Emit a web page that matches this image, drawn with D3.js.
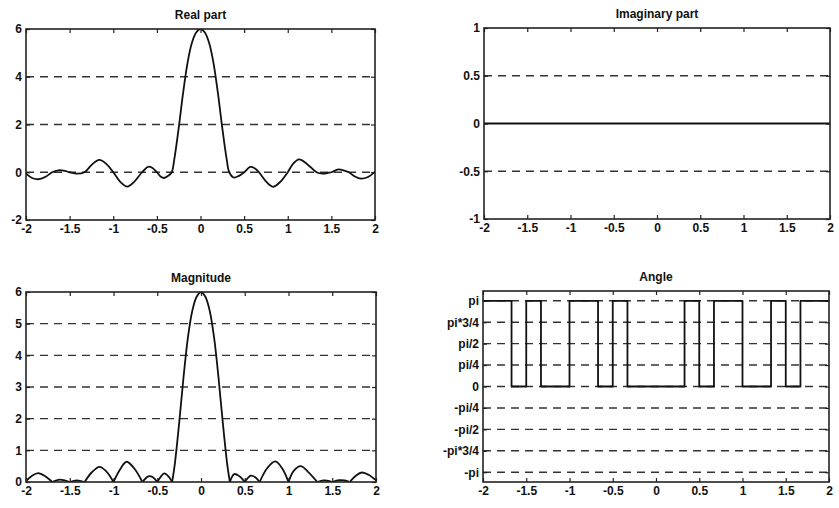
<!DOCTYPE html>
<html>
<head>
<meta charset="utf-8">
<script src="https://cdn.jsdelivr.net/npm/d3@7"></script>
<style>
  body { margin: 0; background: #fff; }
  svg { display: block; }
  text { font-family: 'Liberation Sans', Arial, sans-serif; font-weight: bold; fill: #111; }
</style>
</head>
<body>
<div id="chart"></div>
<script>
// x axis shared by all four panels
const xTicks = [-2, -1.5, -1, -0.5, 0, 0.5, 1, 1.5, 2]
const xTickLabels = ['-2', '-1.5', '-1', '-0.5', '0', '0.5', '1', '1.5', '2']

// Real part
const realX = [-2, -1.93, -1.85, -1.77, -1.7, -1.63, -1.57, -1.5, -1.42, -1.33, -1.25, -1.16, -1.08, -1,
  -0.92, -0.84, -0.76, -0.67, -0.6, -0.55, -0.5, -0.45, -0.42, -0.37, -0.33, -0.3, -0.25, -0.2, -0.15, -0.1, -0.05,
  0, 0.05, 0.1, 0.15, 0.2, 0.25, 0.3, 0.33, 0.38, 0.44, 0.5, 0.57, 0.62, 0.67, 0.75, 0.83, 0.91, 1,
  1.06, 1.13, 1.22, 1.33, 1.4, 1.47, 1.5, 1.58, 1.64, 1.7, 1.77, 1.84, 1.92, 2]
const realY = [-0.06, -0.24, -0.29, -0.18, 0, 0.08, 0.07, 0, -0.06, 0, 0.3, 0.52, 0.35, 0,
  -0.4, -0.6, -0.4, 0, 0.23, 0.18, 0, -0.2, -0.24, -0.15, 0, 0.55, 1.85, 3.3, 4.55, 5.4, 5.85,
  6, 5.85, 5.4, 4.55, 3.3, 1.85, 0.55, 0, -0.22, -0.15, 0, 0.22, 0.17, 0, -0.38, -0.61, -0.42, 0,
  0.35, 0.54, 0.35, 0, -0.06, -0.02, 0, 0.12, 0.08, 0, -0.18, -0.27, -0.2, 0.03]

// Imaginary part
const imagX = [-2, 2]
const imagY = [0, 0]

// Magnitude
const magX = [-2, -1.93, -1.86, -1.78, -1.7, -1.63, -1.57, -1.5, -1.42, -1.33, -1.25, -1.16, -1.08, -1,
  -0.92, -0.85, -0.76, -0.67, -0.6, -0.55, -0.5, -0.45, -0.42, -0.37, -0.33, -0.3, -0.25, -0.2, -0.15, -0.1, -0.05,
  0, 0.05, 0.1, 0.15, 0.2, 0.25, 0.3, 0.33, 0.38, 0.44, 0.5, 0.57, 0.62, 0.67, 0.76, 0.85, 0.93, 1,
  1.06, 1.14, 1.22, 1.33, 1.4, 1.47, 1.5, 1.58, 1.64, 1.7, 1.77, 1.84, 1.92, 2]
const magY = [0.03, 0.2, 0.28, 0.18, 0, 0.07, 0.06, 0, 0.05, 0, 0.3, 0.48, 0.33, 0,
  0.42, 0.64, 0.42, 0, 0.18, 0.15, 0, 0.2, 0.27, 0.17, 0, 0.55, 1.85, 3.3, 4.55, 5.4, 5.85,
  6, 5.85, 5.4, 4.55, 3.3, 1.85, 0.55, 0, 0.25, 0.18, 0, 0.2, 0.15, 0, 0.45, 0.65, 0.42, 0,
  0.35, 0.5, 0.33, 0, 0.05, 0.03, 0, 0.06, 0.05, 0, 0.2, 0.3, 0.22, 0.05]

// Angle (step between 0 and pi)
const angleX = [-2, -1.67, -1.67, -1.5, -1.5, -1.33, -1.33, -1, -1, -0.67, -0.67, -0.5, -0.5, -0.33, -0.33,
  0.33, 0.33, 0.5, 0.5, 0.67, 0.67, 1, 1, 1.33, 1.33, 1.5, 1.5, 1.67, 1.67, 2]
const angleY = [3.1416, 3.1416, 0, 0, 3.1416, 3.1416, 0, 0, 3.1416, 3.1416, 0, 0, 3.1416, 3.1416, 0,
  0, 3.1416, 3.1416, 0, 0, 3.1416, 3.1416, 0, 0, 3.1416, 3.1416, 0, 0, 3.1416, 3.1416]

const realTicks = [-2, 0, 2, 4, 6]
const imagTicks = [-1, -0.5, 0, 0.5, 1]
const imagTickLabels = ['-1', '-0.5', '0', '0.5', '1']
const magTicks = [0, 1, 2, 3, 4, 5, 6]
const angleTicks = [-3.1416, -2.3562, -1.5708, -0.7854, 0, 0.7854, 1.5708, 2.3562, 3.1416]
const angleTickLabels = ['-pi', '-pi*3/4', '-pi/2', '-pi/4', '0', 'pi/4', 'pi/2', 'pi*3/4', 'pi']

const width = 839
const height = 508

const svg = d3.select('#chart').append('svg')
  .attr('width', width)
  .attr('height', height)

const panels = [
  { title: 'Real part', box: [26, 29, 375, 220], y: [-2, 6], ticks: realTicks, labels: realTicks.map(String), grid: [0, 2, 4], x: realX, v: realY, split: false },
  { title: 'Imaginary part', box: [484, 28, 830, 219], y: [-1, 1], ticks: imagTicks, labels: imagTickLabels, grid: [-0.5, 0.5], x: imagX, v: imagY, split: false, linear: true },
  { title: 'Magnitude', box: [26, 292, 376, 482], y: [0, 6], ticks: magTicks, labels: magTicks.map(String), grid: [1, 2, 3, 4, 5], x: magX, v: magY, split: true },
  { title: 'Angle', box: [483, 291, 829, 482], y: [-3.5, 3.5], ticks: angleTicks, labels: angleTickLabels, grid: angleTicks, x: angleX, v: angleY, split: false, linear: true }
]

// break a curve into lobes at its zeros so the cusps stay sharp
function splitAtZeros (pts) {
  const segs = []
  let cur = []
  pts.forEach(p => {
    cur.push(p)
    if (p[1] === 0 && cur.length > 1) {
      segs.push(cur)
      cur = [p]
    }
  })
  if (cur.length > 1) segs.push(cur)
  return segs
}

panels.forEach((p, i) => {
  const [x0, y0, x1, y1] = p.box
  const w = x1 - x0
  const h = y1 - y0

  const xScale = d3.scaleLinear().domain([-2, 2]).range([0, w])
  const yScale = d3.scaleLinear().domain(p.y).range([h, 0])

  const g = svg.append('g')
    .attr('transform', `translate(${x0}, ${y0})`)

  g.append('clipPath')
    .attr('id', 'clip' + i)
    .append('rect')
    .attr('width', w)
    .attr('height', h)

  // dashed horizontal grid
  g.selectAll('.grid')
    .data(p.grid)
    .join('line')
    .attr('x1', 0)
    .attr('x2', w)
    .attr('y1', d => yScale(d))
    .attr('y2', d => yScale(d))
    .attr('stroke', '#333')
    .attr('stroke-width', 1.4)
    .attr('stroke-dasharray', '8,6')

  // axes, ticks point inward like matlab
  const fmtX = d => xTickLabels[xTicks.indexOf(d)]
  const fmtY = d => p.labels[p.ticks.indexOf(d)]

  const bottom = g.append('g')
    .attr('transform', `translate(0, ${h})`)
    .call(d3.axisBottom(xScale).tickValues(xTicks).tickFormat(fmtX).tickSize(-4).tickSizeOuter(0).tickPadding(4))
  const top = g.append('g')
    .call(d3.axisTop(xScale).tickValues(xTicks).tickFormat('').tickSize(-4).tickSizeOuter(0))
  const left = g.append('g')
    .call(d3.axisLeft(yScale).tickValues(p.ticks).tickFormat(fmtY).tickSize(-4).tickSizeOuter(0).tickPadding(4))
  const right = g.append('g')
    .attr('transform', `translate(${w}, 0)`)
    .call(d3.axisRight(yScale).tickValues(p.ticks).tickFormat('').tickSize(-4).tickSizeOuter(0))

  ;[bottom, top, left, right].forEach(a => {
    a.select('.domain').remove()
    a.selectAll('.tick line').attr('stroke', '#222').attr('stroke-width', 1.2)
    a.selectAll('.tick text')
      .style('font-family', "'Liberation Sans', Arial, sans-serif")
      .style('font-weight', 'bold')
      .style('font-size', '12px')
      .attr('fill', '#111')
  })

  // data line
  const pts = p.x.map((x, k) => [x, p.v[k]])
  const line = d3.line()
    .x(d => xScale(d[0]))
    .y(d => yScale(d[1]))
    .curve(p.linear ? d3.curveLinear : d3.curveCatmullRom.alpha(0.5))
  const segs = p.split ? splitAtZeros(pts) : [pts]

  g.append('g')
    .attr('clip-path', `url(#clip${i})`)
    .selectAll('path')
    .data(segs)
    .join('path')
    .attr('fill', 'none')
    .attr('stroke', '#111')
    .attr('stroke-width', 1.8)
    .attr('stroke-linejoin', 'round')
    .attr('d', line)

  // box
  g.append('rect')
    .attr('width', w)
    .attr('height', h)
    .attr('fill', 'none')
    .attr('stroke', '#222')
    .attr('stroke-width', 1.6)

  g.append('text')
    .attr('x', w / 2)
    .attr('y', -10)
    .attr('text-anchor', 'middle')
    .style('font-size', '12px')
    .text(p.title)
})
</script>
</body>
</html>
